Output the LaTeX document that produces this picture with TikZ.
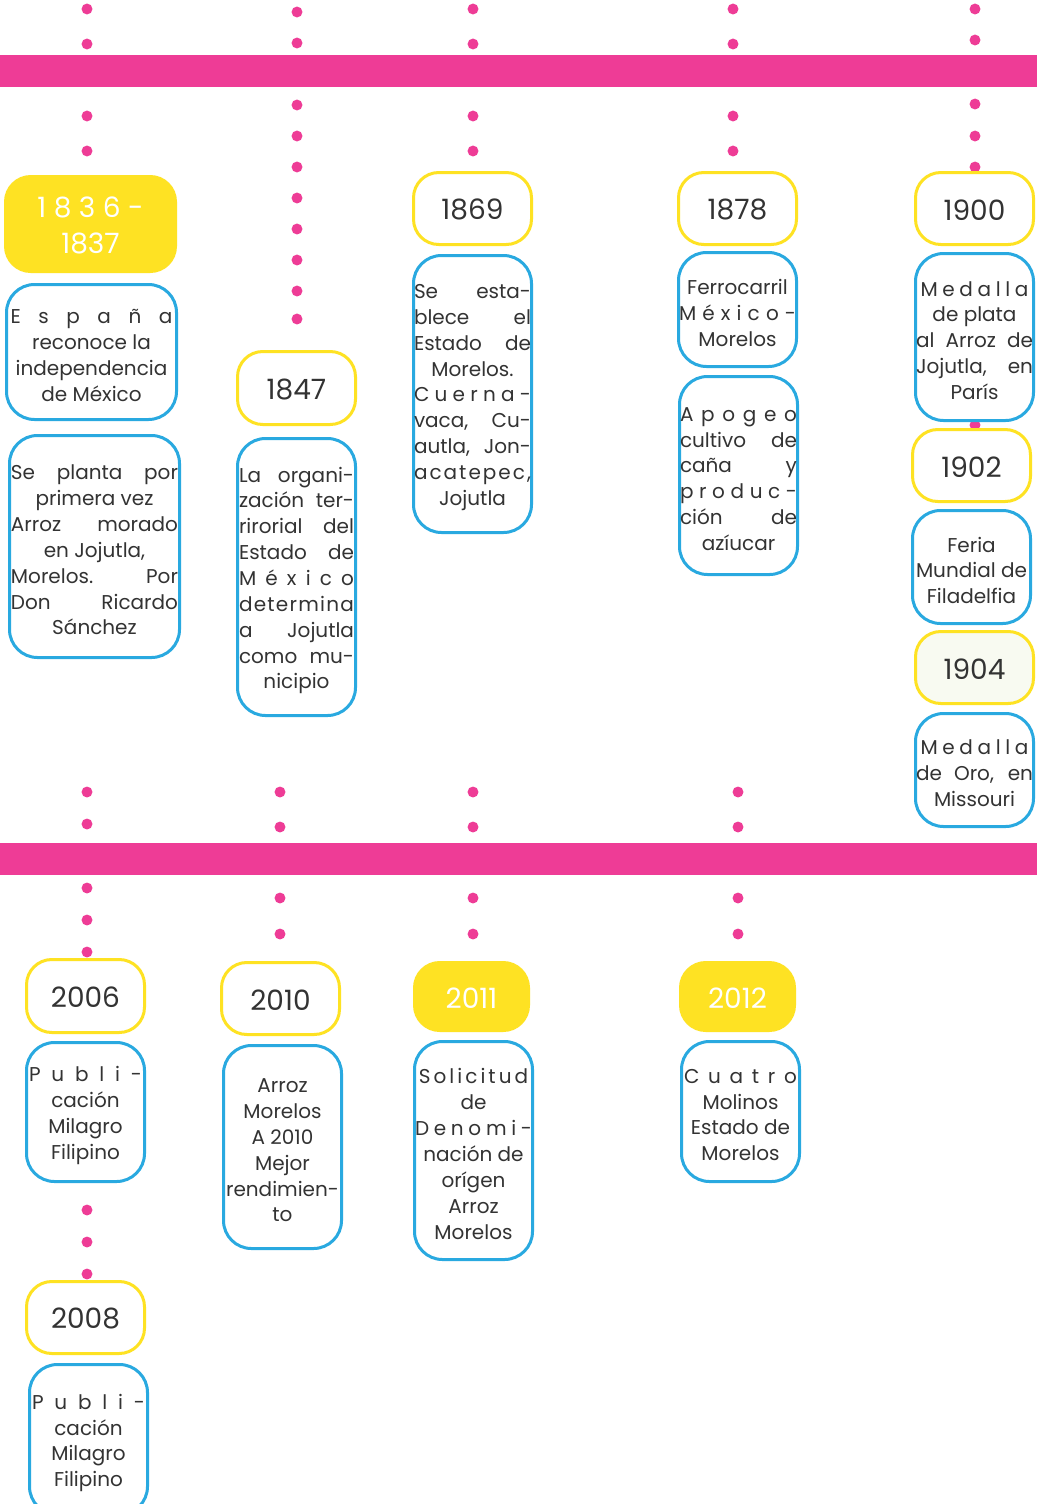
\documentclass[tikz,border=0pt]{standalone}
\usepackage{fontspec}
\setmainfont{Poppins}
\definecolor{pk}{HTML}{EE3C96}
\definecolor{yl}{HTML}{FEE223}
\definecolor{bl}{HTML}{29A9E0}
\definecolor{tx}{HTML}{333333}
\definecolor{pale}{HTML}{F8FAF1}
\newlength\jw
\newcommand\J[1]{\makebox[\jw][s]{#1}}
% \bx[justify width px]{name}{x1}{y1}{x2}{y2}{style}{text}
\newcommand\bx[8][117]{%
  \pgfmathsetmacro\bxcx{(#3+#5)/2}%
  \pgfmathsetmacro\bxcy{(#4+#6)/2}%
  \pgfmathsetmacro\bxww{(#5-#3-3)*0.75}%
  \pgfmathsetmacro\bxhh{(#6-#4-3)*0.75}%
  \setlength\jw{#1pt}\setlength\jw{0.75\jw}%
  \node[#7,minimum width=\bxww pt,minimum height=\bxhh pt] (#2) at (\bxcx,\bxcy) {};
  \node[#7,draw=none,fill=none,txtshift] (#2-t) at (#2.center) {#8};}
\begin{document}
\begin{tikzpicture}[x=0.75pt,y=-0.75pt,
  base/.style={line width=2.25pt,inner sep=0pt,outer sep=0pt,align=center,text=tx},
  ybox/.style={base,draw=yl,fill=white,rounded corners=19pt,font=\fontsize{21}{26.5}\selectfont,txtshift/.style={yshift=-1pt}},
  yfill/.style={ybox,fill=yl,text=white},
  bbox/.style={base,draw=bl,fill=white,rounded corners=21pt,font=\fontsize{15}{19.4}\selectfont,txtshift/.style={yshift=-2.6pt}},
  pdot/.style={fill=pk}]
\useasboundingbox (0,0) rectangle (1037,1504);
\fill[white] (0,0) rectangle (1037,1504);
% bars
\fill[pk] (0,55) rectangle (1037,87);
\fill[pk] (0,843) rectangle (1037,875);
% dots
\foreach \y in {9,44,116,151,792,824,888,920,952,1210,1242,1274} \fill[pdot] (87,\y) circle[radius=4.1pt];
\foreach \y in {12,43,105,136,167,198,229,260,291,319} \fill[pdot] (297,\y) circle[radius=4.1pt];
\foreach \y in {792,827,898,934} \fill[pdot] (280,\y) circle[radius=4.1pt];
\foreach \y in {9,44,116,151,792,827,898,934} \fill[pdot] (473,\y) circle[radius=4.1pt];
\foreach \y in {9,44,116,151} \fill[pdot] (733,\y) circle[radius=4.1pt];
\foreach \y in {792,827,898,934} \fill[pdot] (738,\y) circle[radius=4.1pt];
\foreach \y in {9,40,104,136,167,425} \fill[pdot] (975,\y) circle[radius=4.1pt];
% column 1
\bx{y1}{4}{175}{177}{273}{yfill}{\makebox[79.5pt][s]{1\hfil 8\hfil 3\hfil 6\hfil -}\\1837}
\bx[162]{b1}{5}{283}{178}{421}{bbox}{\J{E s p a ñ a}\\reconoce la\\independencia\\de México}
\bx[167]{b2}{8}{434}{181}{659}{bbox}{\J{Se planta por}\\primera vez\\\J{Arroz morado}\\en Jojutla,\\\J{Morelos. Por}\\\J{Don Ricardo}\\Sánchez}
% column 2
\bx{y2}{236}{350}{357}{426}{ybox}{1847}
\bx[115]{b3}{236}{437}{357}{717}{bbox}{\J{La organi-}\\\J{zación ter-}\\\J{rirorial del}\\\J{Estado de}\\\J{M é x i c o}\\\J{d\hfil e\hfil t\hfil e\hfil r\hfil m\hfil i\hfil n\hfil a}\\\J{a Jojutla}\\\J{como mu-}\\nicipio}
% column 3
\bx{y3}{412}{171}{533}{246}{ybox}{1869}
\bx{b4}{412}{254}{533}{534}{bbox}{\J{Se esta-}\\\J{blece el}\\\J{Estado de}\\Morelos.\\\J{C u e r n a -}\\\J{vaca, Cu-}\\\J{autla, Jon-}\\\J{a\hfil c\hfil a\hfil t\hfil e\hfil p\hfil e\hfil c\hfil ,}\\Jojutla}
% column 4
\bx{y4}{677}{171}{798}{246}{ybox}{1878}
\bx{b5}{677}{251}{798}{368}{bbox}{Ferrocarril\\\J{M é x i c o -}\\Morelos}
\bx{b6}{678}{375}{799}{576}{bbox}{\J{A p o g e o}\\\J{cultivo de}\\\J{caña y}\\\J{p r o d u c -}\\\J{ción de}\\azíucar}
% column 5
\bx{y5}{914}{171}{1035}{246}{ybox}{1900}
\bx{b7}{914}{252}{1035}{422}{bbox}{\makebox[81pt][s]{M e d a l l a}\\de plata\\\J{al Arroz de}\\\J{Jojutla, en}\\París}
\bx{y6}{911}{428}{1032}{503}{ybox}{1902}
\bx{b8}{911}{509}{1032}{625}{bbox}{Feria\\Mundial de\\Filadelfia}
\bx{y7}{914}{630}{1035}{705}{ybox,fill=pale}{1904}
\bx{b9}{914}{712}{1035}{828}{bbox}{\makebox[81pt][s]{M e d a l l a}\\\J{de Oro, en}\\Missouri}
% lower row
\bx{y8}{25}{958}{146}{1034}{ybox}{2006}
\bx[113]{b10}{25}{1041}{146}{1183}{bbox}{\J{P u b l i -}\\cación\\Milagro\\Filipino}
\bx{y9}{25}{1280}{146}{1355}{ybox}{2008}
\bx[113]{b11}{28}{1363}{149}{1516}{bbox}{\J{P u b l i -}\\cación\\Milagro\\Filipino}
\bx{y10}{220}{961}{341}{1036}{ybox}{2010}
\bx{b12}{222}{1044}{343}{1250}{bbox}{Arroz\\Morelos\\A 2010\\Mejor\\rendimien-\\to}
\bx{y11}{413}{961}{530}{1032}{yfill}{2011}
\bx{b13}{413}{1040}{534}{1261}{bbox}{\makebox[82pt][s]{S\hfil o\hfil l\hfil i\hfil c\hfil i\hfil t\hfil u\hfil d}\\de\\\J{D e n o m i -}\\nación de\\orígen\\Arroz\\Morelos}
\bx{y12}{679}{961}{796}{1032}{yfill}{2012}
\bx[113]{b14}{680}{1040}{801}{1183}{bbox}{\J{C u a t r o}\\Molinos\\Estado de\\Morelos}
\end{tikzpicture}
\end{document}
